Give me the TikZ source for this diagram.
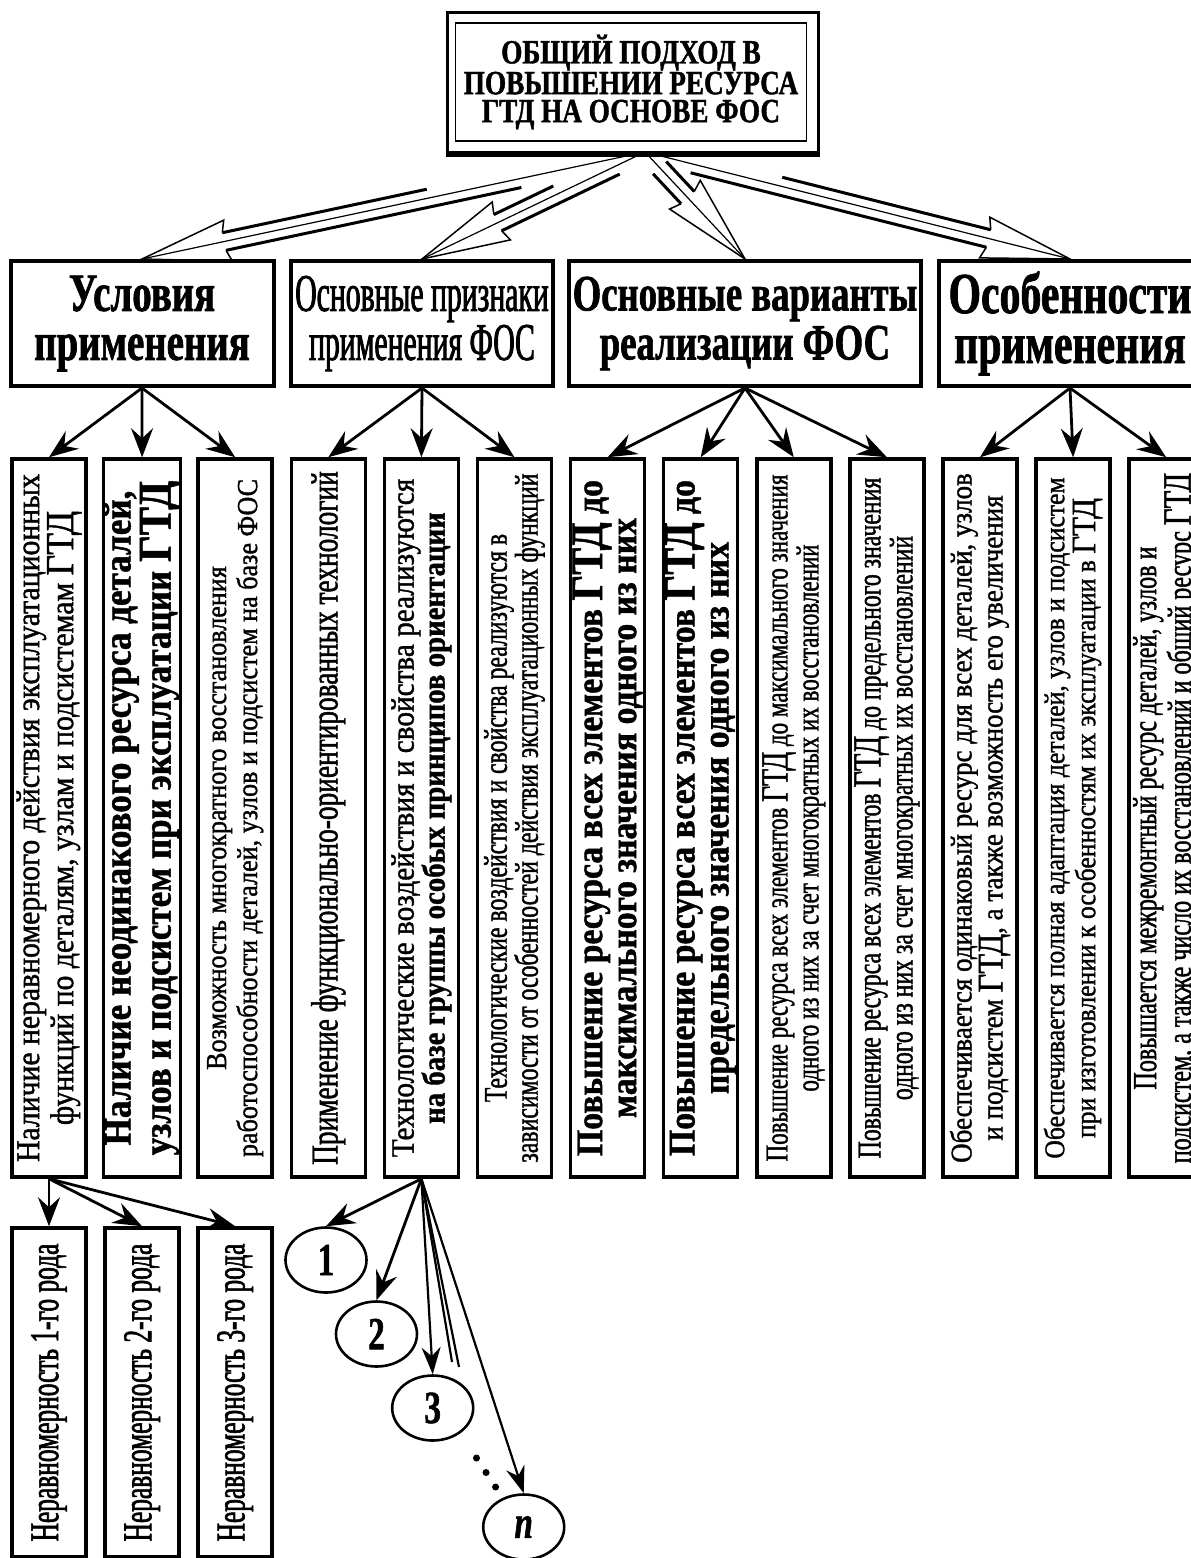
\documentclass[tikz,border=0pt]{standalone}
\usepackage{fontspec}
\usepackage{graphicx}
\setmainfont{Liberation Serif}
\newfontfamily\fnA[FakeStretch=0.9, FakeBold=1.2]{Liberation Serif}
\newfontfamily\fnB[FakeStretch=0.8, FakeBold=1.2]{Liberation Serif}
\newfontfamily\fnC[FakeStretch=0.72, FakeBold=1.2]{Liberation Serif}
\newfontfamily\fnD[FakeStretch=0.56, FakeBold=1.5]{Liberation Serif}
\newfontfamily\fnE[FakeStretch=0.62, FakeBold=1.5]{Liberation Serif}
\usetikzlibrary{calc,arrows.meta,shapes.geometric}

\newcommand{\fsz}[2]{\fontsize{#1}{#2}\selectfont}
\newcommand{\gtd}{\scalebox{1.2}{ГТД}}
% hollow arrow: source, tip, shaft length on each side
\newcommand{\hollowarrow}[4]{%
  \draw[line width=1.2pt] (#1) -- (#2);
  \draw[line width=1.5pt, line join=miter]
    ($(#2)!84pt!(#1)!9pt!90:(#1)$) -- ($(#2)!88pt!(#1)!21pt!90:(#1)$) -- (#2)
    -- ($(#2)!88pt!(#1)!21pt!-90:(#1)$) -- ($(#2)!84pt!(#1)!9pt!-90:(#1)$);
  \draw[line width=3pt]
    ($(#2)!#3!(#1)!9pt!90:(#1)$) -- ($(#2)!84pt!(#1)!9pt!90:(#1)$);
  \draw[line width=3pt]
    ($(#2)!#4!(#1)!9pt!-90:(#1)$) -- ($(#2)!84pt!(#1)!9pt!-90:(#1)$);
}

\begin{document}
\begin{tikzpicture}[x=1pt, y=-1pt,
    topbox/.style={draw, line width=1.4pt, minimum width=351pt, minimum height=118pt,
      align=center, inner sep=0pt, font=\fnB\bfseries\fsz{34}{28}},
    head/.style={draw, line width=4pt, minimum height=125pt, align=center, inner sep=0pt},
    vbox/.style={draw, line width=3.5pt, rotate=90, minimum width=718pt,
      minimum height=74pt, inner sep=0pt, align=center},
    nbox/.style={draw, line width=3.5pt, rotate=90, minimum width=329pt,
      minimum height=74pt, inner sep=0pt, font=\fnE\fsz{41}{41}},
    num/.style={draw, ellipse, line width=2.6pt, minimum width=81pt, minimum height=65pt,
      inner sep=0pt, font=\fnC\bfseries\fsz{46}{46}},
    conn/.style={line width=2.8pt, -{Stealth[length=29pt, width=22pt, inset=10pt]}},
    thin conn/.style={line width=2.2pt, -{Stealth[length=27pt, width=19pt, inset=9pt]}}]

\useasboundingbox (0,0) rectangle (1191,1558);
\clip (0,0) rectangle (1191,1558);
\fill[white] (0,0) rectangle (1191,1558);

% top
\node[topbox] (top) at (631,82) {ОБЩИЙ ПОДХОД В\\ПОВЫШЕНИИ РЕСУРСА\\ГТД НА ОСНОВЕ ФОС};
\draw[line width=3.5pt] ($(top.north west)+(-7.5,-10)$) rectangle ($(top.south east)+(11.5,11)$);
\draw[line width=6pt] ($(top.south west)+(-9,12)$) -- ($(top.south east)+(13,12)$);
\coordinate (src) at (645,152);

% headers
\node[head, minimum width=263pt, font=\fnC\bfseries\fsz{54}{49}] (h1) at (142,323.5) {Условия\\применения};
\node[head, minimum width=262pt, font=\fnD\fsz{53}{49}] (h2) at (422,323.5) {Основные признаки\\применения ФОС};
\node[head, minimum width=352pt, font=\fnC\bfseries\fsz{51}{49}] (h3) at (745,323.5) {Основные варианты\\реализации ФОС};
\node[head, minimum width=262pt, font=\fnC\bfseries\fsz{58}{50}] (h4) at (1070,323.5) {Особенности\\применения};

\hollowarrow{src}{h1.north}{293pt}{386pt}
\hollowarrow{src}{h2.north}{150pt}{215pt}
\hollowarrow{src}{h3.north}{125pt}{125pt}
\hollowarrow{src}{h4.north}{389pt}{299pt}

% vertical boxes
\node[vbox, font=\fnA\fsz{33}{31}] (va) at (49,818)
  {Наличие неравномерного действия эксплуатационных\\функций по деталям, узлам и подсистемам \gtd};
\node[vbox, font=\fnA\bfseries\fsz{39}{34}] (vb) at (142.1,818)
  {Наличие неодинакового ресурса деталей,\\узлов и подсистем при эксплуатации \gtd};
\node[vbox, font=\fnA\fsz{29}{31}] (vc) at (235.2,818)
  {Возможность многократного восстановления\\работоспособности деталей, узлов и подсистем на базе ФОС};
\node[vbox, font=\fnC\fsz{38}{38}] (vd) at (328.3,818)
  {Применение функционально-ориентированных технологий};
\node[vbox, font=\fnA\fsz{32.5}{31}] (ve) at (421.4,818)
  {Технологические воздействия и свойства реализуются\\\bfseries\fsz{32}{32}на базе группы особых принципов ориентации};
\node[vbox, font=\fnC\fsz{33}{31}] (vf) at (514.5,818)
  {Технологические воздействия и свойства реализуются в\\зависимости от особенностей действия эксплуатационных функций};
\node[vbox, font=\fnA\bfseries\fsz{37.5}{34}] (vg) at (607.6,818)
  {Повышение ресурса всех элементов \gtd\ до\\максимального значения одного из них};
\node[vbox, font=\fnA\bfseries\fsz{37.5}{34}] (vh) at (700.7,818)
  {Повышение ресурса всех элементов \gtd\ до\\предельного значения одного из них};
\node[vbox, font=\fnC\fsz{32}{31}] (vi) at (793.8,818)
  {Повышение ресурса всех элементов \gtd\ до максимального значения\\одного из них за счет многократных их восстановлений};
\node[vbox, font=\fnC\fsz{33}{31}] (vj) at (886.9,818)
  {Повышение ресурса всех элементов \gtd\ до предельного значения\\одного из них за счет многократных их восстановлений};
\node[vbox, font=\fnA\fsz{30}{31}] (vk) at (980,818)
  {Обеспечивается одинаковый ресурс для всех деталей, узлов\\и подсистем \gtd, а также возможность его увеличения};
\node[vbox, font=\fnA\fsz{28.5}{31}] (vl) at (1073.1,818)
  {Обеспечивается полная адаптация деталей, узлов и подсистем\\при изготовлении к особенностям их эксплуатации в \gtd};
\node[vbox, font=\fnC\fsz{33.5}{31}] (vm) at (1166.2,818)
  {Повышается межремонтный ресурс деталей, узлов и\\подсистем, а также число их восстановлений и общий ресурс \gtd};

\foreach \t in {va,vb,vc} \draw[conn] (h1.south) -- (\t.east);
\foreach \t in {vd,ve,vf} \draw[conn] (h2.south) -- (\t.east);
\foreach \t in {vg,vh,vi,vj} \draw[conn] (h3.south) -- (\t.east);
\foreach \t in {vk,vl,vm} \draw[conn] (h4.south) -- (\t.east);

% kinds of non-uniformity
\node[nbox] (na) at (49,1392.5) {Неравномерность 1-го рода};
\node[nbox] (nb) at (142.1,1392.5) {Неравномерность 2-го рода};
\node[nbox] (nc) at (235.2,1392.5) {Неравномерность 3-го рода};
\foreach \t in {na,nb,nc} \draw[conn] (va.west) -- (\t.east);

% numbered principles
\node[num] (c1) at (326,1260) {1};
\node[num] (c2) at (376.5,1334) {2};
\node[num] (c3) at (432.7,1408) {3};
\node[num] (cn) at (523.7,1527) {\itshape n};
\coordinate (e1) at (452,1362);
\coordinate (e2) at (459,1367);
\draw[conn] (ve.west) -- (c1.north);
\draw[conn] (ve.west) -- (c2.north);
\draw[thin conn] (ve.west) -- (c3.north);
\draw[line width=2.2pt] (ve.west) -- (e1);
\draw[line width=2.2pt] (ve.west) -- (e2);
\draw[thin conn] (ve.west) -- (cn.north);
\foreach \p in {0,0.5,1} \fill ($(476.5,1458)!\p!(495.6,1487)$) circle (3.5pt);

\end{tikzpicture}
\end{document}
